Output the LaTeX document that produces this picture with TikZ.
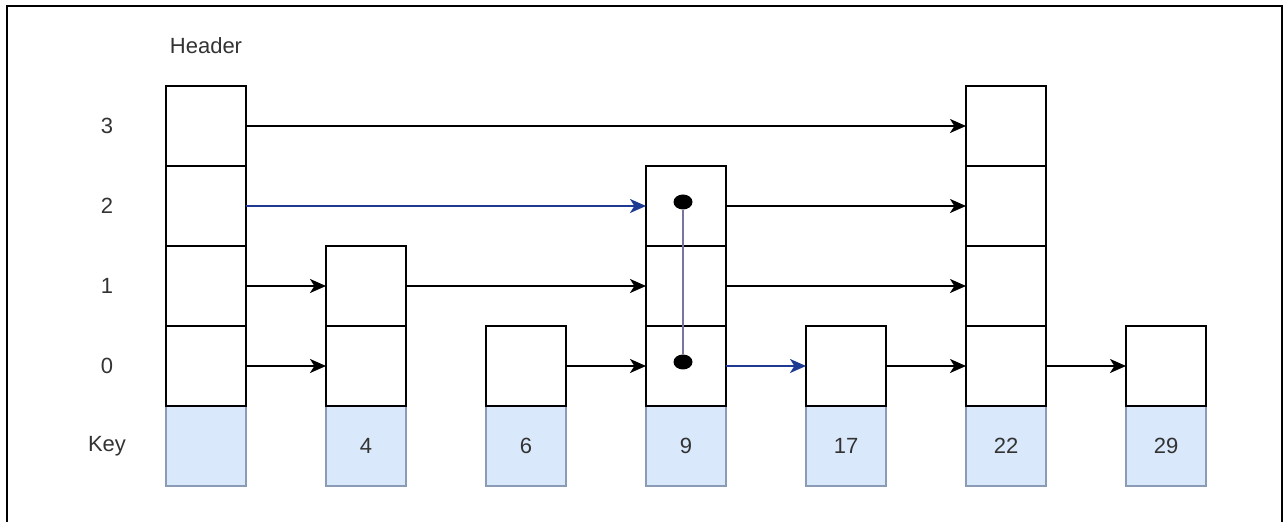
\documentclass[tikz,border=0pt]{standalone}
\usepackage{fontspec}
\setmainfont{Liberation Sans}
\usetikzlibrary{arrows.meta,shapes.geometric,positioning}
\definecolor{keyfill}{HTML}{DAE8FC}
\definecolor{keydraw}{HTML}{8A9BB5}
\definecolor{textgray}{HTML}{333333}
\definecolor{linkblue}{HTML}{1F3A93}
\definecolor{linkgray}{HTML}{76769A}

\begin{document}
\begin{tikzpicture}[
    x=0.5pt, y=-0.5pt,
    node distance=40pt,
    font=\fontsize{11}{13}\selectfont,
    cell/.style={rectangle, minimum width=40pt, minimum height=40pt, inner sep=0pt, outer sep=0pt, draw=black, line width=1pt, fill=white},
    keycell/.style={cell, draw=keydraw, fill=keyfill, text=textgray},
    lbl/.style={text=textgray},
    arrow/.style={line width=1pt, -{Stealth[length=8pt,width=7pt,inset=2.2pt]}},
    bluearrow/.style={arrow, draw=linkblue, fill=linkblue},
    dot/.style={ellipse, fill=black, minimum width=9.5pt, minimum height=7.5pt, inner sep=0pt},
    link/.style={draw=linkgray, line width=1pt}
]
    \useasboundingbox (0,0) rectangle (1287,522);
    \draw [line width=1pt] (7,522) -- (7,6) -- (1282,6) -- (1282,522);

    % key row
    \node (hk) [keycell] at (206,446) {};
    \node (k4) [keycell, right=of hk] {4};
    \node (k6) [keycell, right=of k4] {6};
    \node (k9) [keycell, right=of k6] {9};
    \node (k17) [keycell, right=of k9] {17};
    \node (k22) [keycell, right=of k17] {22};
    \node (k29) [keycell, right=of k22] {29};

    % level cells
    \node (h0) [cell, above=0pt of hk] {};
    \node (h1) [cell, above=0pt of h0] {};
    \node (h2) [cell, above=0pt of h1] {};
    \node (h3) [cell, above=0pt of h2] {};
    \node (c4l0) [cell, above=0pt of k4] {};
    \node (c4l1) [cell, above=0pt of c4l0] {};
    \node (c6l0) [cell, above=0pt of k6] {};
    \node (c9l0) [cell, above=0pt of k9] {};
    \node (c9l1) [cell, above=0pt of c9l0] {};
    \node (c9l2) [cell, above=0pt of c9l1] {};
    \node (c17l0) [cell, above=0pt of k17] {};
    \node (c22l0) [cell, above=0pt of k22] {};
    \node (c22l1) [cell, above=0pt of c22l0] {};
    \node (c22l2) [cell, above=0pt of c22l1] {};
    \node (c22l3) [cell, above=0pt of c22l2] {};
    \node (c29l0) [cell, above=0pt of k29] {};

    % labels
    \node (hdr) [lbl] at (206,46) {Header};
    \node (r3) [lbl] at (107,126) {3};
    \node (r2) [lbl] at (107,206) {2};
    \node (r1) [lbl] at (107,286) {1};
    \node (r0) [lbl] at (107,366) {0};
    \node (rk) [lbl] at (107,446) {Key};

    % forward pointers
    \draw [arrow] (h3) -- (c22l3);
    \draw [bluearrow] (h2) -- (c9l2);
    \draw [arrow] (c9l2) -- (c22l2);
    \draw [arrow] (h1) -- (c4l1);
    \draw [arrow] (c4l1) -- (c9l1);
    \draw [arrow] (c9l1) -- (c22l1);
    \draw [arrow] (h0) -- (c4l0);
    \draw [arrow] (c6l0) -- (c9l0);
    \draw [bluearrow] (c9l0) -- (c17l0);
    \draw [arrow] (c17l0) -- (c22l0);
    \draw [arrow] (c22l0) -- (c29l0);

    % descent in node 9
    \node (d2) [dot] at (683,202) {};
    \node (d0) [dot] at (683,362) {};
    \draw [link] (d2) -- (d0);
\end{tikzpicture}
\end{document}
